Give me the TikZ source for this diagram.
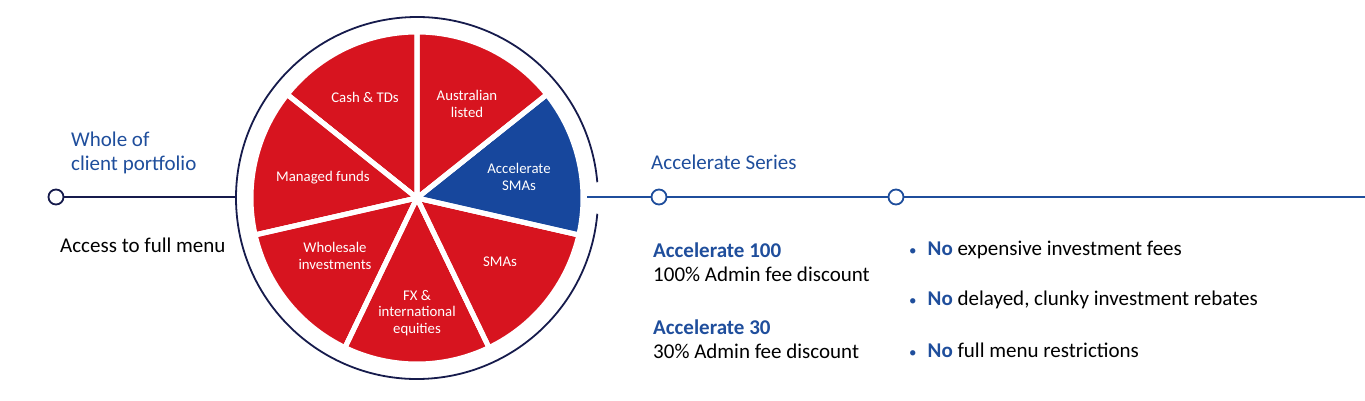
\documentclass[tikz,border=0pt]{standalone}
\usepackage{fontspec}
\setmainfont{Carlito}
\definecolor{piered}{HTML}{D7141F}
\definecolor{pieblue}{HTML}{17479D}
\definecolor{navy}{HTML}{161B4C}
\definecolor{textblue}{HTML}{1F4E9C}
\newcommand{\bluebullet}{\textcolor{textblue}{\fontsize{15}{15}\selectfont •}\hspace{11pt}}
\tikzset{
  slice/.style={draw=white, line width=5pt, line join=round},
  slicelabel/.style={text=white, align=center, font=\fontsize{14.8}{16.5}\selectfont, inner sep=0pt},
  dot/.style={circle, draw, fill=white, line width=1.8pt, minimum size=15pt, inner sep=0pt},
  bodytext/.style={align=left, anchor=west, inner sep=0pt, font=\fontsize{21}{24}\selectfont},
}
\begin{document}
\begin{tikzpicture}[x=1pt, y=1pt]
      \useasboundingbox (0,0) rectangle (1365,400);
      \coordinate (c) at (417,202);
      % pie slices
      \fill[piered, slice] (c) -- ++(90:166) arc[start angle=90, end angle=141.43, radius=166] -- cycle;
      \fill[piered, slice] (c) -- ++(141.43:166) arc[start angle=141.43, end angle=192.86, radius=166] -- cycle;
      \fill[piered, slice] (c) -- ++(192.86:166) arc[start angle=192.86, end angle=244.29, radius=166] -- cycle;
      \fill[piered, slice] (c) -- ++(244.29:166) arc[start angle=244.29, end angle=295.71, radius=166] -- cycle;
      \fill[piered, slice] (c) -- ++(295.71:166) arc[start angle=295.71, end angle=347.14, radius=166] -- cycle;
      \fill[pieblue, slice] (c) -- ++(347.14:166) arc[start angle=347.14, end angle=398.57, radius=166] -- cycle;
      \fill[piered, slice] (c) -- ++(38.57:166) arc[start angle=38.57, end angle=90, radius=166] -- cycle;
      \draw[slice] (c) -- ++(90:166) (c) -- ++(141.43:166) (c) -- ++(192.86:166)
        (c) -- ++(244.29:166) (c) -- ++(295.71:166) (c) -- ++(347.14:166) (c) -- ++(38.57:166);
      % outer ring with a gap on the right
      \draw[navy, line width=1.8pt] (c) ++(5:181) arc[start angle=5, end angle=355, radius=181];
      % slice labels
      \node[slicelabel] (cash) at (365,303) {Cash \& TDs};
      \node[slicelabel] (aus) at (467,296) {Australian\\listed};
      \node[slicelabel] (accsma) at (519,223) {Accelerate\\SMAs};
      \node[slicelabel] (managed) at (323,222) {Managed funds};
      \node[slicelabel] (wholesale) at (335,144) {Wholesale\\investments};
      \node[slicelabel] (fx) at (417,87) {FX \&\\international\\equities};
      \node[slicelabel] (sma) at (500,138) {SMAs};
      % timeline
      \node[dot, draw=navy] (p0) at (56,203) {};
      \node[dot, draw=textblue] (p1) at (659,203) {};
      \node[dot, draw=textblue] (p2) at (896,203) {};
      \coordinate (lend) at (236,203);
      \coordinate (rstart) at (587,203);
      \coordinate (rend) at (1365,203);
      \begin{scope}[line width=1.8pt]
        \draw[navy] (p0) -- (lend);
        \draw[textblue] (rstart) -- (p1);
        \draw[textblue] (p1) -- (p2);
        \draw[textblue] (p2) -- (rend);
      \end{scope}
      % texts
      \node[bodytext, text=textblue] (whole) at (71,247) {Whole of\\client portfolio};
      \node[bodytext] (access) at (60,155) {Access to full menu};
      \node[bodytext, text=textblue] (series) at (651,238) {Accelerate Series};
      \node[bodytext] (acc100) at (653,138) {\textbf{\textcolor{textblue}{Accelerate 100}}\\100\% Admin fee discount};
      \node[bodytext] (acc30) at (653,61) {\textbf{\textcolor{textblue}{Accelerate 30}}\\30\% Admin fee discount};
      \node[bodytext] (no1) at (909,150) {\bluebullet\textbf{\textcolor{textblue}{No}} expensive investment fees};
      \node[bodytext] (no2) at (909,100) {\bluebullet\textbf{\textcolor{textblue}{No}} delayed, clunky investment rebates};
      \node[bodytext] (no3) at (909,50) {\bluebullet\textbf{\textcolor{textblue}{No}} full menu restrictions};
    \end{tikzpicture}
\end{document}
